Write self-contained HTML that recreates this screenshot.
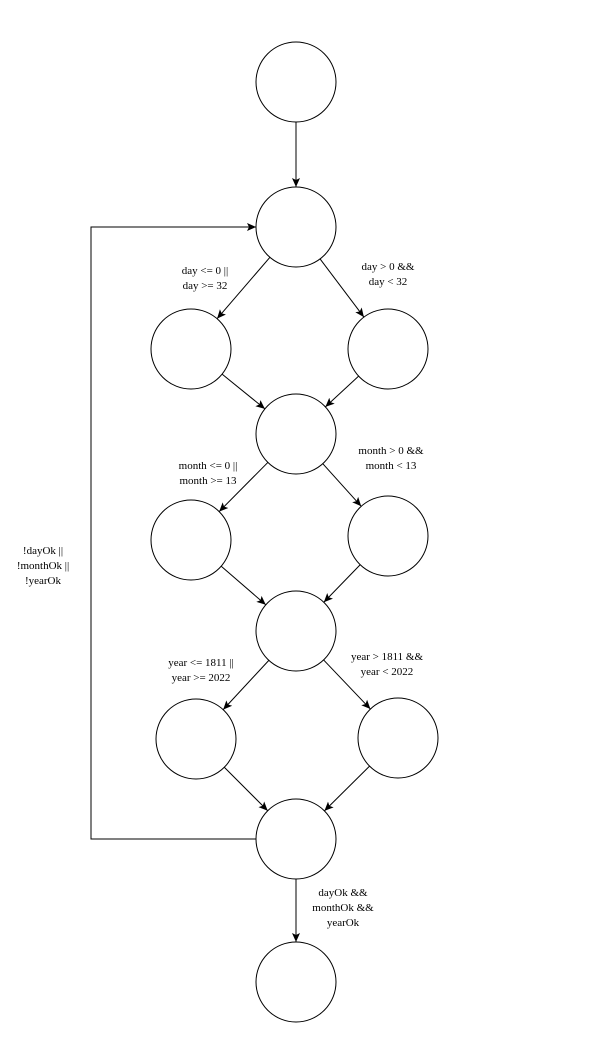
<!DOCTYPE html>
<html><head><meta charset="utf-8"><style>
html,body{margin:0;padding:0;background:#fff;}
svg text{font-family:"Liberation Serif",serif;font-size:11px;fill:#000;}
</style></head><body>
<svg id="g" width="599" height="1032" viewBox="0 0 599 1032">
<defs><marker id="ah" markerWidth="10" markerHeight="10" refX="9" refY="5" orient="auto" markerUnits="userSpaceOnUse"><path d="M0,1 L9,5 L0,9 L2,5 Z" fill="#000"/></marker></defs>
</svg>
<script>
const nodeX=[296,296,191,388,296,191,388,296,196,398,296,296];
const nodeY=[82,227,349,349,434,540,536,631,739,738,839,982];
const edgeFrom=[0,1,1,2,3,4,4,5,6,7,7,8,9,10];
const edgeTo=[1,2,3,4,4,5,6,7,7,8,9,10,10,11];
const labels=[
 {x:205,y:274,t:["day <= 0 ||","day >= 32"]},
 {x:388,y:270,t:["day > 0 &&","day < 32"]},
 {x:208,y:469,t:["month <= 0 ||","month >= 13"]},
 {x:391,y:454,t:["month > 0 &&","month < 13"]},
 {x:201,y:666,t:["year <= 1811 ||","year >= 2022"]},
 {x:387,y:660,t:["year > 1811 &&","year < 2022"]},
 {x:343,y:896,t:["dayOk &&","monthOk &&","yearOk"]},
 {x:43,y:554,t:["!dayOk ||","!monthOk ||","!yearOk"]}
];
const R=40,NS="http://www.w3.org/2000/svg",g=document.getElementById('g');
function mk(tag,a){const e=document.createElementNS(NS,tag);for(const k in a)e.setAttribute(k,a[k]);g.appendChild(e);return e;}
for(let i=0;i<edgeFrom.length;i++){
 const x1=nodeX[edgeFrom[i]],y1=nodeY[edgeFrom[i]],x2=nodeX[edgeTo[i]],y2=nodeY[edgeTo[i]];
 const d=Math.hypot(x2-x1,y2-y1),ux=(x2-x1)/d,uy=(y2-y1)/d;
 const l=mk('line',{x1:x1+ux*R,y1:y1+uy*R,x2:x2-ux*R,y2:y2-uy*R,stroke:'#000','stroke-width':1,'marker-end':'url(#ah)'});
 
 
}
const lp=mk('polyline',{points:(nodeX[10]-R)+','+nodeY[10]+' 91,'+nodeY[10]+' 91,'+nodeY[1]+' '+(nodeX[1]-R)+','+nodeY[1],fill:'none',stroke:'#000','stroke-width':1,'marker-end':'url(#ah)'});


for(let i=0;i<nodeX.length;i++){
 const c=mk('circle',{cx:nodeX[i],cy:nodeY[i],r:R,fill:'#fff',stroke:'#000','stroke-width':1});
 
 
}
labels.forEach((L,i)=>{
 L.t.forEach((s,j)=>{
  const t=mk('text',{x:L.x,y:L.y+j*15,'text-anchor':'middle'});
  t.textContent=s;
  
  
 });
});
</script>
</body></html>
